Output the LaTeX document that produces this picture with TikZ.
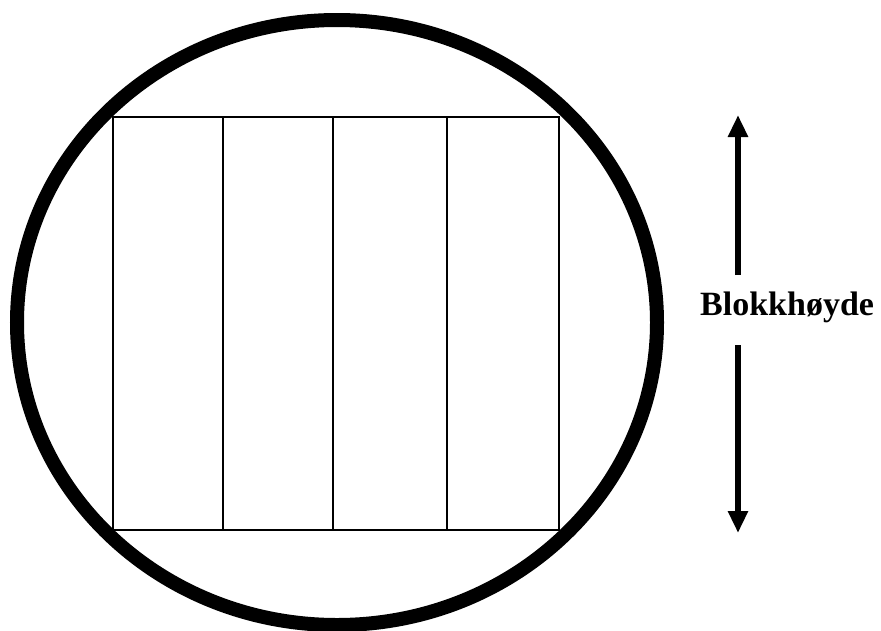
\documentclass[tikz,border=0pt]{standalone}
\usepackage{fontspec}
\setmainfont{Liberation Serif}
\usetikzlibrary{arrows.meta}

\begin{document}
\begin{tikzpicture}[
    x=1pt, y=-1pt,
    rim/.style={line width=14pt},
    block/.style={line width=1.3pt},
    arrow/.style={-{Triangle[length=22pt, width=19pt]}, line width=6pt},
    label/.style={font=\fontsize{34}{40}\selectfont\bfseries, inner sep=0pt, anchor=base west}
]
\useasboundingbox (0,0) rectangle (881,630);

% log cross-section
\draw[rim] (337,322.5) ellipse [x radius=320, y radius=302.5];

% block with boards
\draw[block] (113,117) rectangle (559,530);
\foreach \x in {223,333,447}
    \draw[block] (\x,117) -- (\x,530);

% height label
\node[label] (hoyde) at (700,315) {Blokkhøyde};
\coordinate (uptail) at (738,275);
\coordinate (uptip) at (738,115);
\coordinate (downtail) at (738,345);
\coordinate (downtip) at (738,533);

\draw[arrow] (uptail) -- (uptip);
\draw[arrow] (downtail) -- (downtip);

\end{tikzpicture}
\end{document}
